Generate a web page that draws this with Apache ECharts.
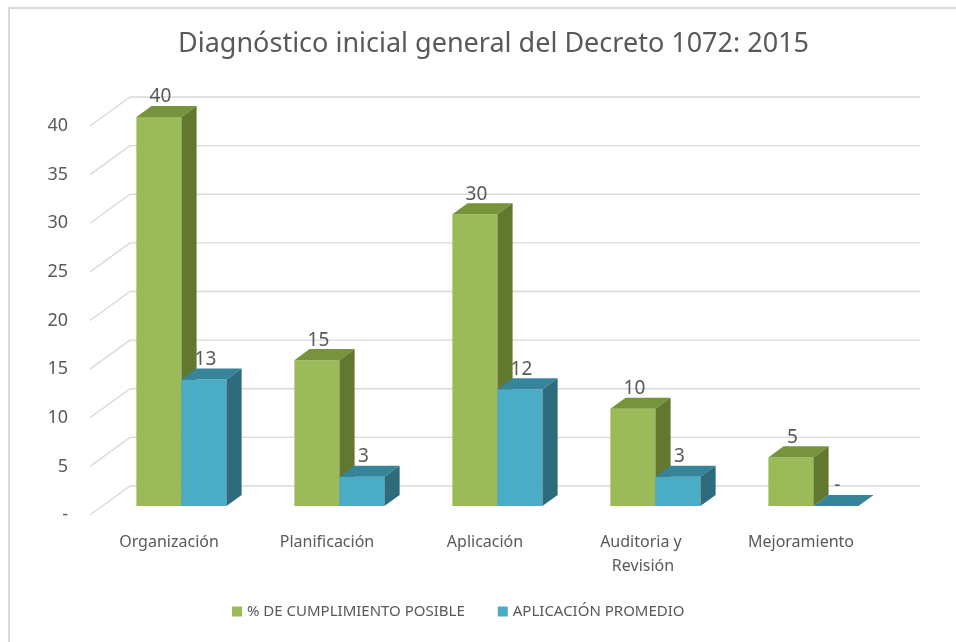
<!DOCTYPE html>
<html>
<head>
<meta charset="utf-8">
<script src="https://cdn.jsdelivr.net/npm/echarts@6/dist/echarts.min.js"></script>
<style>
html,body{margin:0;padding:0;background:#fff;}
#chart{width:956px;height:642px;}
</style>
</head>
<body>
<div id="chart"></div>
<script>
const categories = ['Organización', 'Planificación', 'Aplicación', 'Auditoria y Revisión', 'Mejoramiento'];
const cumplimiento = [40, 15, 30, 10, 5];
const aplicacion = [13, 3, 12, 3, 0];
const yTicks = [0, 5, 10, 15, 20, 25, 30, 35, 40];
const seriesNames = ['% DE CUMPLIMIENTO POSIBLE', 'APLICACIÓN PROMEDIO'];

const FONT = '"Noto Sans", "Open Sans", sans-serif';
const TXT = '#595959';
const DEPTH_X = 40, DEPTH_Y = -29;
const F1 = 0.31, F2 = 0.69;

const palettes = [
  { front: '#9BBB59', top: '#77933C', side: '#63782F' },
  { front: '#4BACC6', top: '#35849A', side: '#2E6C7D' }
];

function makeBarRender(idx) {
  const pal = palettes[idx];
  return function (params, api) {
    const c = api.value(0), v = api.value(1);
    const base = api.coord([c, 0]);
    const topPt = api.coord([c, v]);
    const band = api.size([1, 0])[0];
    const bw = band * 0.285;
    const fx = DEPTH_X * F1, fy = DEPTH_Y * F1;
    const dx = DEPTH_X * (F2 - F1), dy = DEPTH_Y * (F2 - F1);
    const left = base[0] + fx + (idx === 0 ? -bw : 0);
    const right = left + bw;
    const yb = base[1] + fy, yt = topPt[1] + fy;
    return {
      type: 'group',
      children: [
        { type: 'rect', shape: { x: left, y: yt, width: bw, height: yb - yt }, style: { fill: pal.front } },
        { type: 'polygon', shape: { points: [[left, yt], [right, yt], [right + dx, yt + dy], [left + dx, yt + dy]] }, style: { fill: pal.top } },
        { type: 'polygon', shape: { points: [[right, yt], [right + dx, yt + dy], [right + dx, yb + dy], [right, yb]] }, style: { fill: pal.side } },
        { type: 'text', style: { text: v === 0 ? '-' : String(v), x: left + bw / 2 + 1.5, y: yt - 20, fill: TXT, fontSize: 19, fontFamily: FONT, align: 'center', verticalAlign: 'middle' } }
      ]
    };
  };
}

function gridRender(params, api) {
  const v = api.value(1);
  const y = api.coord([0, v])[1];
  const cs = params.coordSys;
  const x0 = cs.x, x1 = cs.x + cs.width;
  return {
    type: 'polyline',
    shape: { points: [[x0, y], [x0 + DEPTH_X, y + DEPTH_Y], [x1 + DEPTH_X, y + DEPTH_Y]] },
    style: { stroke: '#D9D9D9', lineWidth: 1.3, fill: null }
  };
}

const chart = echarts.init(document.getElementById('chart'));
chart.setOption({
  backgroundColor: '#fff',
  animation: false,
  graphic: [{
    type: 'rect', shape: { x: 9, y: 8, width: 1000, height: 700 },
    style: { fill: null, stroke: '#D9D9D9', lineWidth: 2 }, silent: true
  }],
  title: {
    text: 'Diagnóstico inicial general del Decreto 1072: 2015',
    left: 173, top: 26,
    textStyle: { fontFamily: FONT, fontSize: 27, fontWeight: 'normal', color: TXT }
  },
  legend: {
    data: seriesNames,
    bottom: 18, left: 227,
    icon: 'rect', itemWidth: 10, itemHeight: 10, itemGap: 33,
    textStyle: { fontFamily: FONT, fontSize: 15, color: TXT }
  },
  grid: { left: 90, right: 76, top: 126, bottom: 127 },
  xAxis: {
    type: 'category', data: categories,
    axisLine: { show: false }, axisTick: { show: false },
    axisLabel: { color: TXT, fontFamily: FONT, fontSize: 16, margin: 15, interval: 0, width: 130, overflow: 'break', lineHeight: 24 }
  },
  yAxis: {
    type: 'value', min: 0, max: 40, interval: 5,
    axisLine: { show: false }, axisTick: { show: false }, splitLine: { show: false },
    axisLabel: { color: TXT, fontFamily: FONT, fontSize: 18, margin: 22, padding: [6, 0, 0, 0], formatter: v => v === 0 ? '-' : String(v) }
  },
  series: [
    { type: 'custom', name: 'walls', renderItem: gridRender, data: yTicks.map(v => [0, v]), silent: true, z: 1 },
    { type: 'custom', name: seriesNames[0], renderItem: makeBarRender(0), itemStyle: { color: palettes[0].front },
      data: cumplimiento.map((v, i) => [i, v]), z: 2 },
    { type: 'custom', name: seriesNames[1], renderItem: makeBarRender(1), itemStyle: { color: palettes[1].front },
      data: aplicacion.map((v, i) => [i, v]), z: 3 }
  ]
});
</script>
</body>
</html>
